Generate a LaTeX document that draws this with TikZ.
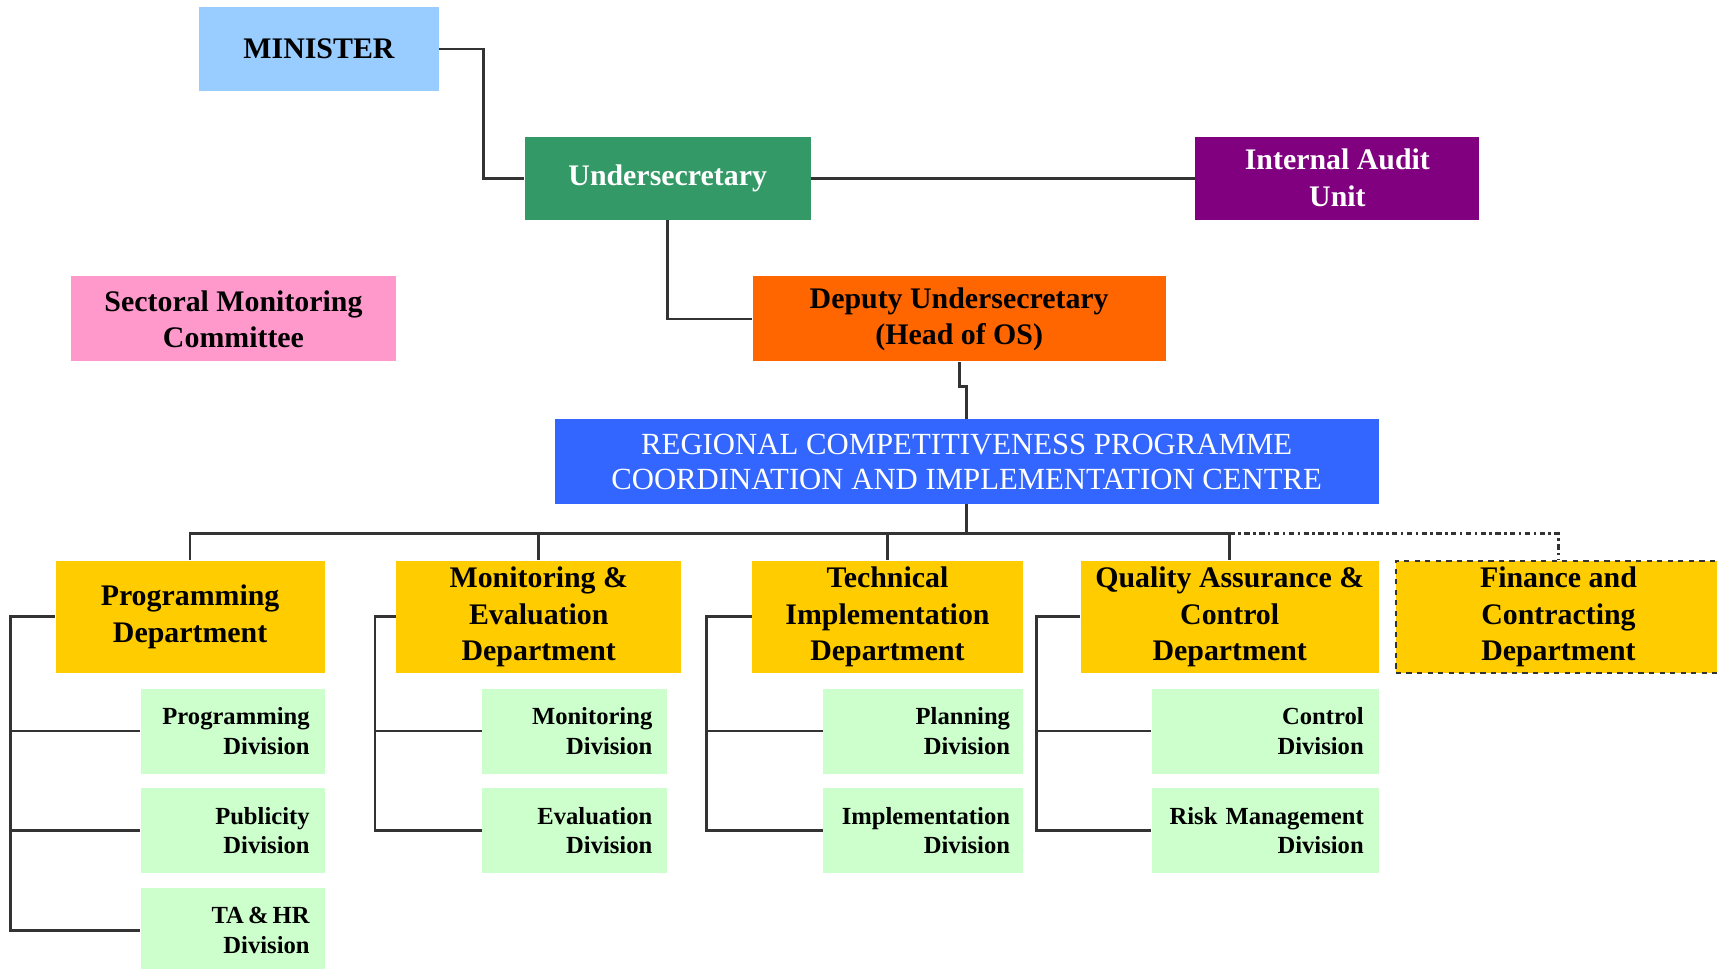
\documentclass[tikz,border=0pt]{standalone}
\usepackage{fontspec}
\setmainfont{Liberation Serif}
\usetikzlibrary{positioning}

\definecolor{ministerblue}{HTML}{99CCFF}
\definecolor{undergreen}{HTML}{339966}
\definecolor{auditpurple}{HTML}{800080}
\definecolor{sectorpink}{HTML}{FF99CC}
\definecolor{deputyorange}{HTML}{FF6600}
\definecolor{centreblue}{HTML}{3366FF}
\definecolor{deptyellow}{HTML}{FFCC00}
\definecolor{divgreen}{HTML}{CCFFCC}
\definecolor{linegray}{HTML}{333333}

\begin{document}
\begin{tikzpicture}
		% Define styles
		\tikzstyle{box} = [rectangle, inner sep=0pt, align=center,
		font=\fontsize{17}{20.5}\selectfont\bfseries]
		\tikzstyle{topbox} = [box, minimum height=1.68cm]
		\tikzstyle{deptbox} = [box, fill=deptyellow, minimum height=2.24cm]
		\tikzstyle{divbox} = [rectangle, fill=divgreen, minimum height=1.7cm,
		inner xsep=0.3cm, inner ysep=0pt, align=right,
		font=\fontsize{14}{16.8}\selectfont\bfseries] % Division block style
		\tikzstyle{link} = [line width=1.6pt, draw=linegray]
		
		\useasboundingbox (-6.38,0.98) rectangle (27.96,-18.38);
		
		% Top of the chart
		\node [topbox, fill=ministerblue, minimum width=4.8cm] (minister) {MINISTER};
		\node [topbox, fill=undergreen, text=white, minimum width=5.72cm, minimum height=1.66cm,
		below right=0.9cm and 1.7cm of minister] (under) {Undersecretary};
		\node [topbox, fill=auditpurple, text=white, minimum width=5.68cm, minimum height=1.66cm,
		right=7.68cm of under, font=\fontsize{17}{21}\selectfont\bfseries] (audit) {Internal Audit\\Unit};
		\node [topbox, fill=deputyorange, minimum width=8.26cm, minimum height=1.7cm,
		below left=1.12cm and 0.58cm of audit] (deputy) {Deputy Undersecretary\\(Head of OS)};
		\node [topbox, fill=sectorpink, minimum width=6.5cm, minimum height=1.7cm,
		left=7.12cm of deputy] (sectoral) {Sectoral Monitoring\\Committee};
		\node [topbox, fill=centreblue, text=white, minimum width=16.48cm, minimum height=1.7cm,
		below=1.14cm of deputy, xshift=0.15cm, font=\fontsize{17.5}{20}\selectfont]
		(centre) {REGIONAL COMPETITIVENESS PROGRAMME\\COORDINATION AND IMPLEMENTATION CENTRE};
		
		% Departments
		\node [deptbox, minimum width=5.96cm, below=1.12cm of centre.south east, anchor=north east]
		(qadept) {Quality Assurance \&\\Control\\Department};
		\node [deptbox, minimum width=5.42cm, left=1.14cm of qadept] (techdept) {Technical\\Implementation\\Department};
		\node [deptbox, minimum width=5.7cm, left=1.4cm of techdept] (medept) {Monitoring \&\\Evaluation\\Department};
		\node [deptbox, minimum width=5.38cm, left=1.42cm of medept] (progdept) {Programming\\Department};
		\node [deptbox, minimum width=6.5cm, right=0.32cm of qadept, draw=linegray, dashed,
		line width=1pt] (findept) {Finance and\\Contracting\\Department};
		
		% Divisions
		\node [divbox, text width=3.08cm, below=0.3cm of progdept.south east, anchor=north east]
		(progdiv) {Programming\\Division};
		\node [divbox, text width=3.08cm, below=0.28cm of progdiv] (pubdiv) {Publicity\\Division};
		\node [divbox, text width=3.08cm, below=0.28cm of pubdiv] (tahrdiv) {TA\,\&\,HR\\Division};
		\node [divbox, text width=3.1cm, below=0.3cm of medept.south east, anchor=north east,
		xshift=-0.28cm] (mondiv) {Monitoring\\Division};
		\node [divbox, text width=3.1cm, below=0.28cm of mondiv] (evaldiv) {Evaluation\\Division};
		\node [divbox, text width=3.48cm, inner xsep=0.26cm, below=0.3cm of techdept.south east,
		anchor=north east] (plandiv) {Planning\\Division};
		\node [divbox, text width=3.48cm, inner xsep=0.26cm, below=0.28cm of plandiv] (impldiv) {Implementation\\Division};
		\node [divbox, text width=3.94cm, below=0.3cm of qadept.south east, anchor=north east]
		(ctrldiv) {Control\\Division};
		\node [divbox, text width=3.94cm, below=0.28cm of ctrldiv] (riskdiv) {Risk Management\\Division};
		
		% Draw connectors
		\draw [link] (minister.east) -- ++(0.88,0) |- (under.west);
		\draw [link] (under) -- (audit);
		\draw [link] (under.south) |- (deputy.west);
		\draw [link] (deputy.south) -- ++(0,-0.5) -| (centre.north);
		\draw [link] (centre.south) -- ++(0,-0.58) coordinate (hub);
		\draw [link] (progdept.north) |- (hub) -| (qadept.north);
		\draw [link] (medept.north) -- (medept.north |- hub);
		\draw [link] (techdept.north) -- (techdept.north |- hub);
		\draw [link, line width=1.4pt, dash dot] (qadept.north |- hub) -| (findept.north); % Finance is dash-dotted
		
		% Division rails
		\draw [link] (progdept.west) -- ++(-0.9,0) coordinate (prograil) |- (tahrdiv.west);
		\draw [link] (progdiv.west) -- (progdiv.west -| prograil);
		\draw [link] (pubdiv.west) -- (pubdiv.west -| prograil);
		\draw [link] (medept.west) -- ++(-0.42,0) coordinate (merail) |- (evaldiv.west);
		\draw [link] (mondiv.west) -- (mondiv.west -| merail);
		\draw [link] (techdept.west) -- ++(-0.9,0) coordinate (techrail) |- (impldiv.west);
		\draw [link] (plandiv.west) -- (plandiv.west -| techrail);
		\draw [link] (qadept.west) -- ++(-0.88,0) coordinate (qarail) |- (riskdiv.west);
		\draw [link] (ctrldiv.west) -- (ctrldiv.west -| qarail);
	\end{tikzpicture}
\end{document}
